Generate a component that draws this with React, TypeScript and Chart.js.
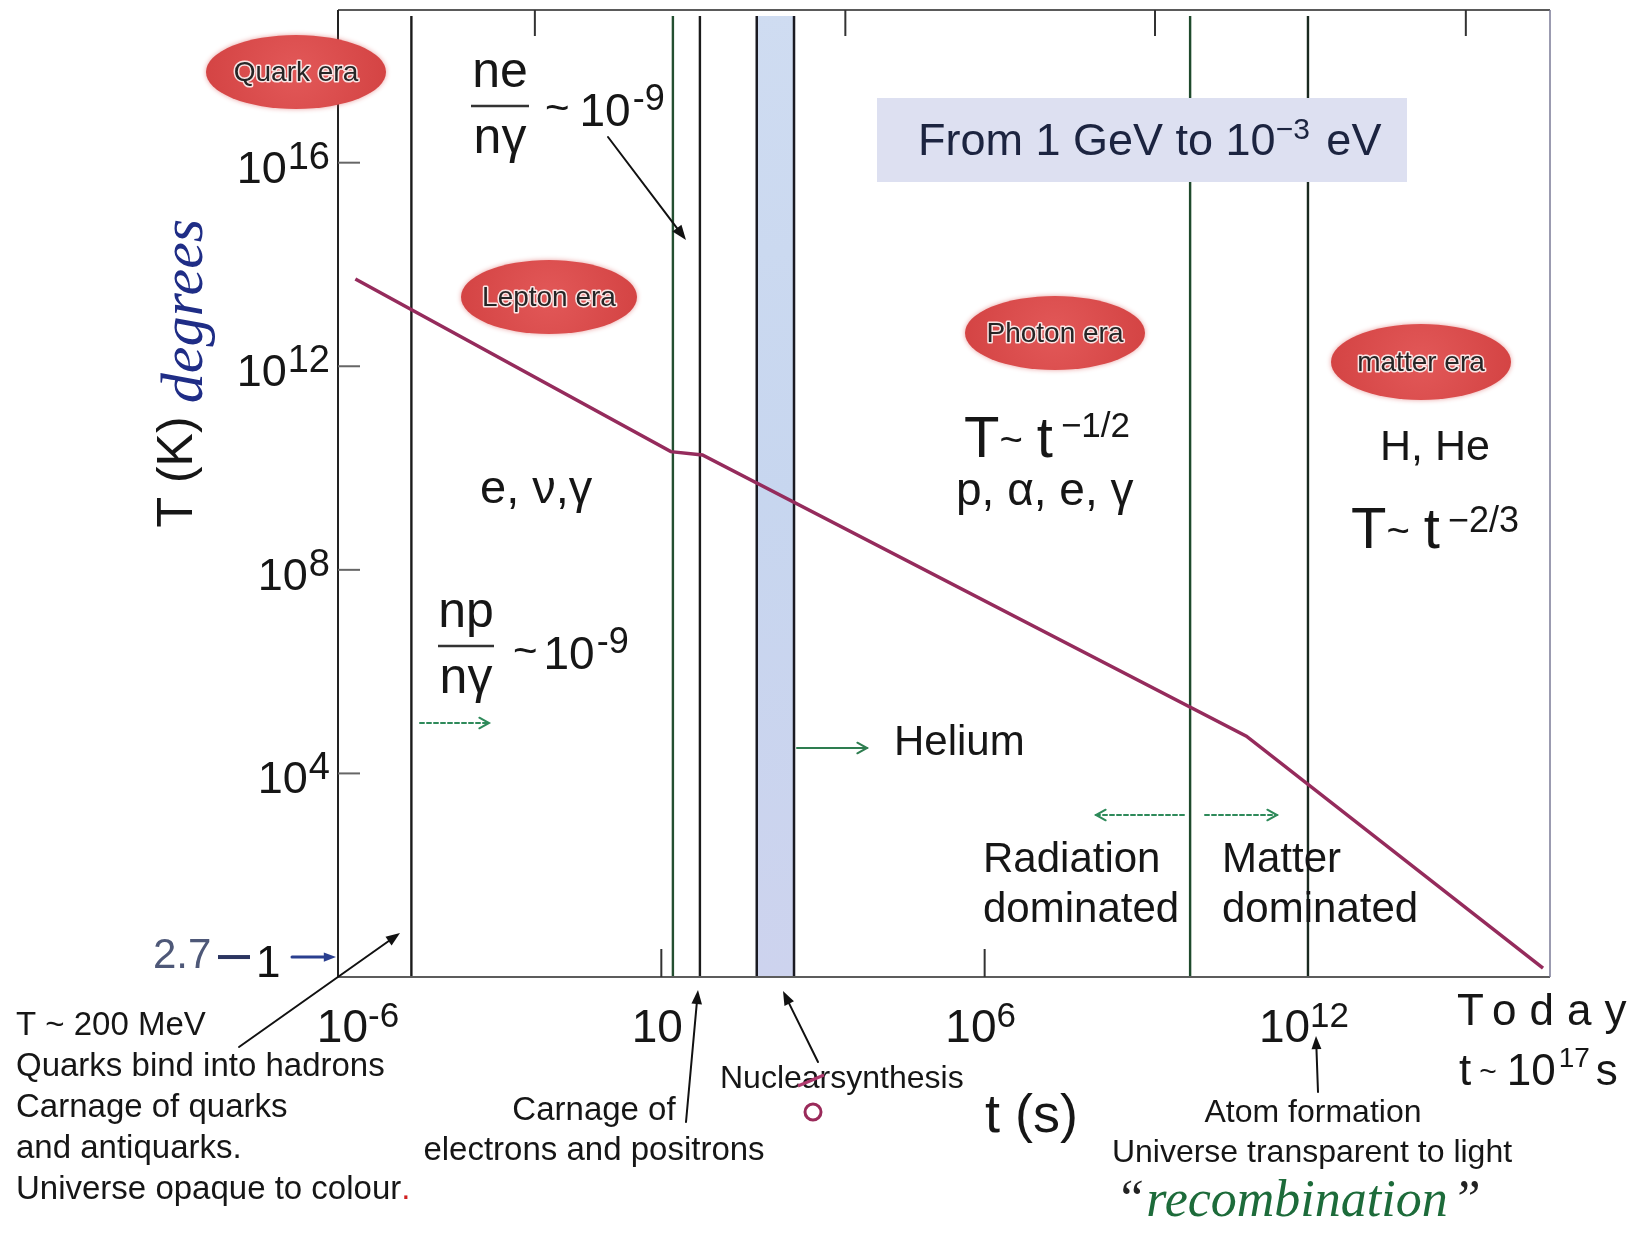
import React, { useEffect, useRef } from "react";
import { Chart, registerables } from "chart.js";

Chart.register(...registerables);

// Temperature of the universe against cosmic time (piecewise power laws)
const curveTimes = [2.1e-6, 1.5, 5.8, 7.2e10, 2.3e16];
const curveTemps = [5.2e13, 2.1e10, 1.8e10, 5.4e4, 1.5];

// Era boundaries (seconds)
const boundaryTimes = [2.3e-5, 1.64, 5.2, 6.5e9, 1.0e12];
// Nucleosynthesis window (seconds)
const nucleosynthesisWindow = [59, 290];

// Axis ranges
const timeRange = [1e-6, 3.1e16];
const tempRange = [1, 1e19];

// Tick marks and labels
const xTickValues = [1e-6, 1, 1e6, 1e12];
const xTickExponents = ["-6", "", "6", "12"];
const xTopTickValues = [4.5e-3, 2.6e3, 1.45e9, 8.5e14];
const yTickValues = [1e4, 1e8, 1e12, 1e16];
const yTickExponents = ["4", "8", "12", "16"];
const cmbTemperature = 2.7;

const W = 1643;
const H = 1233;
const SANS = '"Liberation Sans", Arial, Helvetica, sans-serif';
const SERIF = '"Liberation Serif", "DejaVu Serif", serif';

type Run = {
  t: string;
  size: number;
  dy?: number;
  color?: string;
  family?: string;
  style?: string;
  gap?: number;
};

function fontOf(r: Run) {
  return `${r.style ?? ""} ${r.size}px ${r.family ?? SANS}`.trim();
}

function runsWidth(ctx: CanvasRenderingContext2D, runs: Run[]) {
  let w = 0;
  for (const r of runs) {
    ctx.font = fontOf(r);
    w += ctx.measureText(r.t).width + (r.gap ?? 0);
  }
  return w;
}

function drawRuns(
  ctx: CanvasRenderingContext2D,
  runs: Run[],
  x: number,
  y: number,
  align: "left" | "center" | "right" = "left"
) {
  const w = runsWidth(ctx, runs);
  let cx = align === "left" ? x : align === "center" ? x - w / 2 : x - w;
  ctx.textAlign = "left";
  ctx.textBaseline = "alphabetic";
  for (const r of runs) {
    ctx.font = fontOf(r);
    ctx.fillStyle = r.color ?? "#161616";
    ctx.fillText(r.t, cx, y + (r.dy ?? 0));
    cx += ctx.measureText(r.t).width + (r.gap ?? 0);
  }
}

function text(
  ctx: CanvasRenderingContext2D,
  t: string,
  x: number,
  y: number,
  size: number,
  align: CanvasTextAlign = "left",
  color = "#161616",
  family = SANS,
  style = ""
) {
  ctx.font = `${style} ${size}px ${family}`.trim();
  ctx.textAlign = align;
  ctx.textBaseline = "alphabetic";
  ctx.fillStyle = color;
  ctx.fillText(t, x, y);
}

function arrow(
  ctx: CanvasRenderingContext2D,
  x1: number,
  y1: number,
  x2: number,
  y2: number,
  o: { color?: string; width?: number; head?: "filled" | "open"; size?: number; dash?: number[] } = {}
) {
  const color = o.color ?? "#111";
  const size = o.size ?? 14;
  const head = o.head ?? "filled";
  const ang = Math.atan2(y2 - y1, x2 - x1);
  ctx.save();
  ctx.strokeStyle = color;
  ctx.fillStyle = color;
  ctx.lineWidth = o.width ?? 2;
  ctx.lineCap = "round";
  ctx.setLineDash(o.dash ?? []);
  ctx.beginPath();
  ctx.moveTo(x1, y1);
  const back = head === "filled" ? size * 0.6 : 0;
  ctx.lineTo(x2 - Math.cos(ang) * back, y2 - Math.sin(ang) * back);
  ctx.stroke();
  ctx.setLineDash([]);
  const spread = head === "filled" ? 0.36 : 0.5;
  const a1 = ang + Math.PI - spread;
  const a2 = ang + Math.PI + spread;
  ctx.beginPath();
  ctx.moveTo(x2 + Math.cos(a1) * size, y2 + Math.sin(a1) * size);
  ctx.lineTo(x2, y2);
  ctx.lineTo(x2 + Math.cos(a2) * size, y2 + Math.sin(a2) * size);
  if (head === "filled") {
    ctx.closePath();
    ctx.fill();
  } else {
    ctx.stroke();
  }
  ctx.restore();
}

function hline(ctx: CanvasRenderingContext2D, x1: number, x2: number, y: number, color: string, width: number) {
  ctx.save();
  ctx.strokeStyle = color;
  ctx.lineWidth = width;
  ctx.beginPath();
  ctx.moveTo(x1, y);
  ctx.lineTo(x2, y);
  ctx.stroke();
  ctx.restore();
}

function vline(ctx: CanvasRenderingContext2D, x: number, y1: number, y2: number, color: string, width: number) {
  ctx.save();
  ctx.strokeStyle = color;
  ctx.lineWidth = width;
  ctx.beginPath();
  ctx.moveTo(x, y1);
  ctx.lineTo(x, y2);
  ctx.stroke();
  ctx.restore();
}

function eraBadge(ctx: CanvasRenderingContext2D, cx: number, cy: number, rx: number, ry: number, label: string) {
  ctx.save();
  const g = ctx.createRadialGradient(cx, cy, 0, cx, cy, rx);
  g.addColorStop(0, "#e25858");
  g.addColorStop(1, "#d44444");
  ctx.beginPath();
  ctx.ellipse(cx, cy, rx, ry, 0, 0, Math.PI * 2);
  ctx.shadowColor = "rgba(215,80,80,0.55)";
  ctx.shadowBlur = 5;
  ctx.fillStyle = g;
  ctx.fill();
  ctx.shadowBlur = 0;
  ctx.font = `28px ${SANS}`;
  ctx.textAlign = "center";
  ctx.textBaseline = "middle";
  ctx.lineJoin = "round";
  ctx.lineWidth = 3;
  ctx.strokeStyle = "rgba(255,255,255,0.85)";
  ctx.strokeText(label, cx, cy + 1);
  ctx.fillStyle = "#262626";
  ctx.fillText(label, cx, cy + 1);
  ctx.restore();
}

function fraction(
  ctx: CanvasRenderingContext2D,
  num: string,
  den: string,
  cx: number,
  lineY: number,
  halfWidth: number
) {
  ctx.save();
  ctx.font = `50px ${SANS}`;
  ctx.textAlign = "center";
  ctx.textBaseline = "alphabetic";
  ctx.fillStyle = "#161616";
  ctx.fillText(num, cx, lineY - 19, halfWidth * 2);
  ctx.fillText(den, cx, lineY + 47, halfWidth * 2);
  ctx.restore();
  hline(ctx, cx - halfWidth, cx + halfWidth, lineY, "#333", 2.5);
}

const backgroundPlugin = {
  id: "paper",
  beforeDraw(chart: Chart) {
    const { ctx } = chart;
    ctx.save();
    ctx.fillStyle = "#ffffff";
    ctx.fillRect(0, 0, W, H);
    ctx.restore();
  },
};

const framePlugin = {
  id: "eraFrame",
  beforeDatasetsDraw(chart: Chart) {
    const { ctx, chartArea: a } = chart;
    const x = chart.scales.x;
    const y = chart.scales.y;

    // nucleosynthesis band
    const b0 = x.getPixelForValue(nucleosynthesisWindow[0]);
    const b1 = x.getPixelForValue(nucleosynthesisWindow[1]);
    ctx.save();
    const bg = ctx.createLinearGradient(0, a.top, 0, a.bottom);
    bg.addColorStop(0, "#cfdcf1");
    bg.addColorStop(0.5, "#c7d6ef");
    bg.addColorStop(1, "#cdd3ee");
    ctx.fillStyle = bg;
    ctx.fillRect(b0, a.top + 6, b1 - b0, a.bottom - a.top - 6);
    ctx.restore();
    vline(ctx, b0, a.top + 6, a.bottom, "#1a1a22", 2.5);
    vline(ctx, b1, a.top + 6, a.bottom, "#1a1a22", 2.5);

    // era boundaries
    const boundaryColors = ["#1b1b1b", "#244f31", "#1b1b1b", "#1f4a2c", "#1a2a20"];
    boundaryTimes.forEach((t, i) => {
      vline(ctx, x.getPixelForValue(t), a.top + 6, a.bottom, boundaryColors[i], 2.4);
    });

    // frame
    hline(ctx, a.left, a.right, a.top, "#5a5a5a", 2);
    hline(ctx, a.left, a.right, a.bottom, "#5c5c5c", 2);
    vline(ctx, a.left, a.top, a.bottom, "#222", 2);
    vline(ctx, a.right, a.top, a.bottom, "#7a7a96", 1.5);

    // ticks
    yTickValues.forEach((v) => {
      const py = y.getPixelForValue(v);
      hline(ctx, a.left, a.left + 22, py, "#666", 2);
    });
    xTickValues.slice(1, 3).forEach((v) => {
      const px = x.getPixelForValue(v);
      vline(ctx, px, a.bottom - 28, a.bottom, "#333", 2);
    });
    xTopTickValues.forEach((v) => {
      const px = x.getPixelForValue(v);
      vline(ctx, px, a.top, a.top + 26, "#333", 2);
    });
  },
};

const notesPlugin = {
  id: "eraNotes",
  afterDatasetsDraw(chart: Chart) {
    const { ctx, chartArea: a } = chart;
    const x = chart.scales.x;
    const y = chart.scales.y;

    // axis tick labels
    yTickValues.forEach((v, i) => {
      const py = y.getPixelForValue(v);
      drawRuns(
        ctx,
        [
          { t: "10", size: 45, gap: 1 },
          { t: yTickExponents[i], size: 38, dy: -14 },
        ],
        330,
        py + 20,
        "right"
      );
    });
    xTickValues.forEach((v, i) => {
      const px = x.getPixelForValue(v);
      const runs: Run[] = [{ t: "10", size: 46 }];
      if (xTickExponents[i]) runs.push({ t: xTickExponents[i], size: 35, dy: -15 });
      drawRuns(ctx, runs, i === 0 ? px + 20 : px - 4, 1042, "center");
    });

    // axis titles
    ctx.save();
    ctx.translate(174, 472);
    ctx.rotate(-Math.PI / 2);
    text(ctx, "T (K)", 0, 18, 50, "center");
    ctx.restore();
    ctx.save();
    ctx.translate(190, 311);
    ctx.rotate(-Math.PI / 2);
    text(ctx, "degrees", 0, 12, 60, "center", "#1f2d86", SERIF, "italic");
    ctx.restore();
    text(ctx, "t (s)", 985, 1132, 54);

    // present-day temperature marker
    const cmbY = y.getPixelForValue(cmbTemperature);
    text(ctx, "2.7", 153, cmbY + 13, 42, "left", "#4e5878");
    hline(ctx, 218, 250, cmbY + 2, "#2b3560", 4);
    text(ctx, "1", 256, cmbY + 22, 44, "left", "#111");
    arrow(ctx, 292, cmbY + 2, a.left - 2, cmbY + 2, { color: "#2a3f8f", width: 3, size: 13 });

    // range box
    ctx.save();
    ctx.fillStyle = "#dde0f1";
    ctx.fillRect(877, 98, 530, 84);
    ctx.restore();
    drawRuns(
      ctx,
      [
        { t: "From 1 GeV to 10", size: 45, color: "#1c2440" },
        { t: "\u22123", size: 30, dy: -16, color: "#1c2440", gap: 4 },
        { t: " eV", size: 45, color: "#1c2440" },
      ],
      918,
      155
    );

    // era badges
    eraBadge(ctx, 296, 72, 90, 37, "Quark era");
    eraBadge(ctx, 549, 297, 88, 37, "Lepton era");
    eraBadge(ctx, 1055, 333, 90, 37, "Photon era");
    eraBadge(ctx, 1421, 362, 90, 38, "matter era");

    // electron / photon ratio
    fraction(ctx, "ne", "n\u03b3", 500, 106, 29);
    drawRuns(
      ctx,
      [
        { t: "~", size: 42, dy: -4, gap: 10 },
        { t: "10", size: 46, gap: 2 },
        { t: "-9", size: 36, dy: -16 },
      ],
      545,
      126
    );
    arrow(ctx, 608, 137, 686, 240, { width: 2, size: 16 });

    // proton / photon ratio
    fraction(ctx, "np", "n\u03b3", 466, 646, 28);
    drawRuns(
      ctx,
      [
        { t: "~", size: 42, dy: -4, gap: 6 },
        { t: "10", size: 46, gap: 2 },
        { t: "-9", size: 36, dy: -16 },
      ],
      513,
      669
    );
    arrow(ctx, 420, 723, 489, 723, { color: "#2e8a5a", width: 2, head: "open", size: 11, dash: [4, 3] });

    // particle content labels
    text(ctx, "e, \u03bd,\u03b3", 480, 503, 47);
    drawRuns(
      ctx,
      [
        { t: "T", size: 58 },
        { t: "~", size: 40, dy: -4, gap: 14 },
        { t: "t", size: 58, gap: 8 },
        { t: "\u22121/2", size: 35, dy: -20 },
      ],
      964,
      457
    );
    text(ctx, "p, \u03b1, e, \u03b3", 956, 505, 46);
    text(ctx, "H, He", 1435, 460, 43, "center");
    drawRuns(
      ctx,
      [
        { t: "T", size: 58 },
        { t: "~", size: 40, dy: -4, gap: 14 },
        { t: "t", size: 58, gap: 8 },
        { t: "\u22122/3", size: 36, dy: -16 },
      ],
      1351,
      548
    );

    // helium
    arrow(ctx, 797, 748, 867, 748, { color: "#2e7d50", width: 2, head: "open", size: 11 });
    text(ctx, "Helium", 894, 755, 42);

    // radiation vs matter domination
    arrow(ctx, 1184, 815, 1096, 815, { color: "#2e8a5a", width: 2, head: "open", size: 11, dash: [4, 3] });
    arrow(ctx, 1205, 815, 1277, 815, { color: "#2e8a5a", width: 2, head: "open", size: 11, dash: [4, 3] });
    text(ctx, "Radiation", 983, 872, 42);
    text(ctx, "dominated", 983, 922, 42);
    text(ctx, "Matter", 1222, 872, 42);
    text(ctx, "dominated", 1222, 922, 42);

    // hadronisation note
    arrow(ctx, 239, 1047, 400, 933, { width: 2, size: 15 });
    const quarkLines = [
      "T ~ 200 MeV",
      "Quarks bind into hadrons",
      "Carnage of quarks",
      "and antiquarks.",
    ];
    quarkLines.forEach((s, i) => text(ctx, s, 16, 1035 + i * 41, 33));
    drawRuns(
      ctx,
      [
        { t: "Universe opaque to colour", size: 33 },
        { t: ".", size: 33, color: "#d02020" },
      ],
      16,
      1199
    );

    // electron-positron annihilation
    arrow(ctx, 686, 1122, 698, 990, { width: 2, size: 15 });
    text(ctx, "Carnage of", 594, 1120, 33, "center");
    text(ctx, "electrons and positrons", 594, 1160, 33, "center");

    // nucleosynthesis
    arrow(ctx, 818, 1062, 783, 991, { width: 2, size: 15 });
    text(ctx, "Nuclearsynthesis", 720, 1088, 32);
    ctx.save();
    ctx.strokeStyle = "#b03a6e";
    ctx.lineWidth = 3;
    ctx.beginPath();
    ctx.moveTo(798, 1086);
    ctx.lineTo(824, 1075);
    ctx.stroke();
    ctx.beginPath();
    ctx.arc(813, 1112, 8, 0, Math.PI * 2);
    ctx.strokeStyle = "#9a2a5a";
    ctx.stroke();
    ctx.restore();

    // recombination
    arrow(ctx, 1318, 1092, 1316, 1036, { width: 2, size: 14 });
    text(ctx, "Atom formation", 1313, 1122, 32, "center");
    text(ctx, "Universe transparent to light", 1312, 1162, 32, "center");
    drawRuns(
      ctx,
      [
        { t: "\u201c", size: 52, family: SERIF, style: "italic", color: "#222", gap: 2 },
        { t: "recombination", size: 52, family: SERIF, style: "italic", color: "#1d6b3a", gap: 4 },
        { t: "\u201d", size: 52, family: SERIF, style: "italic", color: "#222" },
      ],
      1298,
      1216,
      "center"
    );

    // today
    ctx.save();
    (ctx as any).letterSpacing = "13px";
    text(ctx, "Today", 1457, 1025, 44);
    ctx.restore();
    drawRuns(
      ctx,
      [
        { t: "t", size: 44, gap: 8 },
        { t: "~", size: 30, dy: -4, gap: 10 },
        { t: "10", size: 44, gap: 3 },
        { t: "17", size: 28, dy: -18, gap: 6 },
        { t: "s", size: 44 },
      ],
      1459,
      1085
    );
  },
};

export default function App() {
  const canvasRef = useRef<HTMLCanvasElement>(null);

  useEffect(() => {
    const canvas = canvasRef.current;
    if (!canvas) return;
    const chart = new Chart(canvas, {
      type: "scatter",
      data: {
        datasets: [
          {
            label: "T(t)",
            data: curveTimes.map((t, i) => ({ x: t, y: curveTemps[i] })),
            showLine: true,
            borderColor: "#952b5c",
            borderWidth: 3.5,
            pointRadius: 0,
            tension: 0,
            fill: false,
          },
        ],
      },
      options: {
        responsive: false,
        animation: false,
        devicePixelRatio: 1,
        events: [],
        layout: { padding: { left: 338, top: 10, right: W - 1550, bottom: H - 977 } },
        plugins: { legend: { display: false }, tooltip: { enabled: false } },
        scales: {
          x: { type: "logarithmic", min: timeRange[0], max: timeRange[1], display: false },
          y: { type: "logarithmic", min: tempRange[0], max: tempRange[1], display: false },
        },
      },
      plugins: [backgroundPlugin, framePlugin, notesPlugin],
    });
    return () => chart.destroy();
  }, []);

  return (
    <div style={{ position: "absolute", left: 0, top: 0, width: W, height: H, background: "#fff" }}>
      <canvas ref={canvasRef} width={W} height={H} style={{ display: "block", width: W, height: H }} />
    </div>
  );
}
